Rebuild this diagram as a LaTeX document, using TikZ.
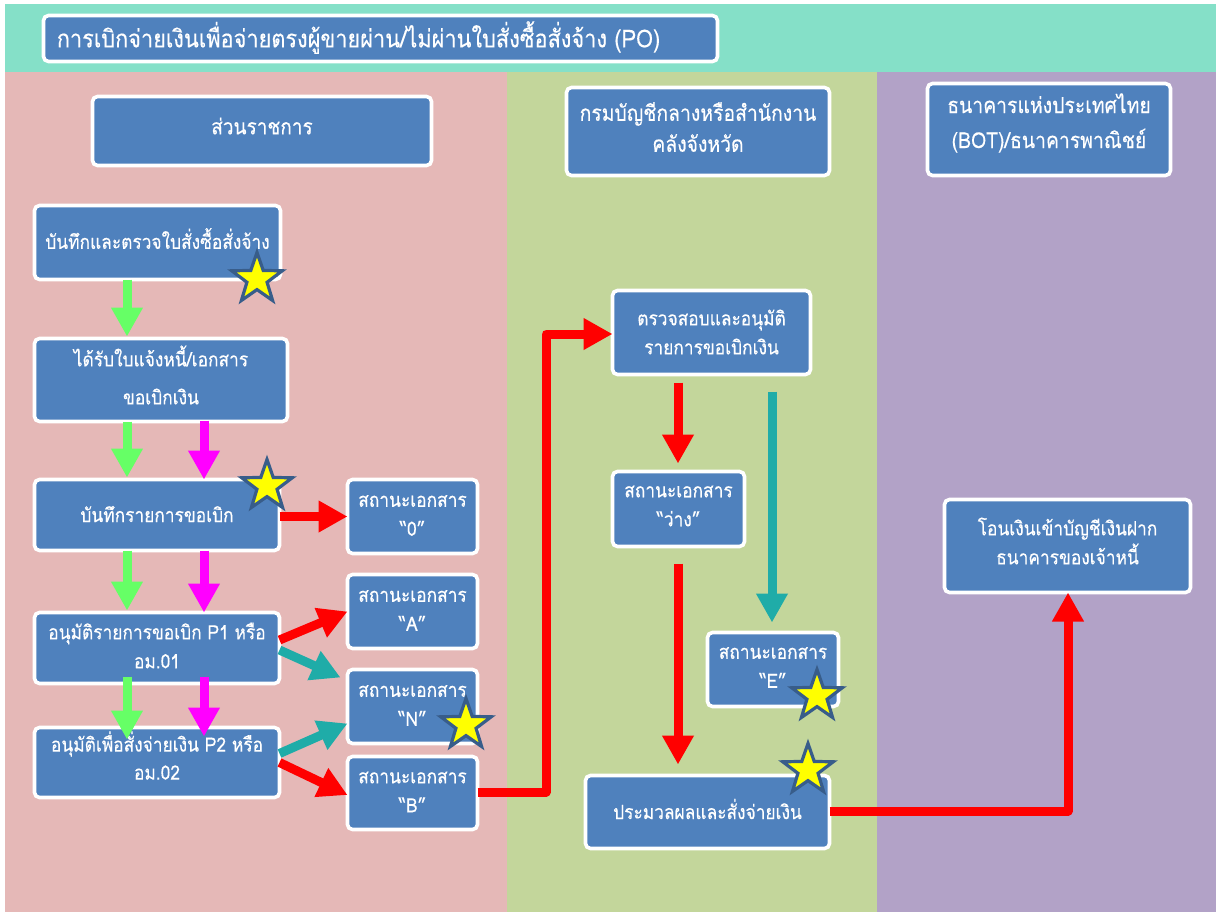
\documentclass[tikz,border=0pt]{standalone}
\usepackage{fontspec}
\setmainfont[Script=Thai,FakeStretch=0.88,FakeBold=0.3]{Loma}
\usetikzlibrary{arrows.meta,shapes.geometric}
\definecolor{bandteal}{HTML}{85E0C8}
\definecolor{bandpink}{HTML}{E5B8B7}
\definecolor{bandgreen}{HTML}{C3D69B}
\definecolor{bandpurple}{HTML}{B2A2C7}
\definecolor{boxblue}{HTML}{4F81BD}
\definecolor{arrgreen}{HTML}{66FF66}
\definecolor{arrmag}{HTML}{FF00FF}
\definecolor{arrred}{HTML}{FF0000}
\definecolor{arrteal}{HTML}{1FACA8}
\definecolor{starline}{HTML}{385D8A}
\definecolor{starfill}{HTML}{FFFF00}
\tikzset{
  boxn/.style={draw=white,line width=3.6pt,fill=boxblue,rounded corners=5pt,inner sep=0pt,outer sep=0pt},
  boxtext/.style={text=white,align=center,inner sep=0pt},
  flow/.style={line width=9pt,line join=round,-{Triangle[length=29pt,width=30pt]}},
  starn/.style={star,star points=5,star point ratio=2.5,fill=starfill,draw=starline,line width=3.2pt,inner sep=0pt,minimum size=53pt}
}
% name, x1, y1, x2, y2, font size, leading, text, raise
\newcommand{\bx}[9]{%
  \pgfmathsetmacro{\bcx}{(#2+#4)/2}\pgfmathsetmacro{\bcy}{(#3+#5)/2}%
  \pgfmathsetmacro{\bw}{#4-#2-3}\pgfmathsetmacro{\bh}{#5-#3-3}%
  \node[boxn,minimum width=\bw pt,minimum height=\bh pt,
    label={[boxtext,font=\fontsize{#6}{#7}\selectfont,yshift=#9pt]center:{#8}}] (#1) at (\bcx,\bcy) {};}
\begin{document}
\begin{tikzpicture}[x=1pt,y=-1pt]
\useasboundingbox (0,0) rectangle (1216,913);
\fill[white] (0,0) rectangle (1216,913);
\fill[bandteal] (5,4) rectangle (1216,72);
\fill[bandpink] (5,72) rectangle (507,912);
\fill[bandgreen] (507,72) rectangle (877,912);
\fill[bandpurple] (877,72) rectangle (1216,912);
\bx{title}{42}{14}{719}{63}{24.7}{30}{การเบิกจ่ายเงินเพื่อจ่ายตรงผู้ขายผ่าน/ไม่ผ่านใบสั่งซื้อสั่งจ้าง (PO)\hspace*{44pt}}{1}
\bx{hgov}{91}{95}{433}{167}{21.6}{30}{ส่วนราชการ}{5}
\bx{hcgd}{565}{86}{831}{177}{22}{31}{กรมบัญชีกลางหรือสำนักงาน\\คลังจังหวัด}{4.5}
\bx{hbot}{926}{82}{1172}{177}{22}{35}{ธนาคารแห่งประเทศไทย\\(BOT)/ธนาคารพาณิชย์}{6.5}
\bx{rec}{33}{204}{282}{281}{19.7}{28}{บันทึกและตรวจใบสั่งซื้อสั่งจ้าง}{4}
\bx{inv}{33}{337}{289}{423}{19.7}{38}{ได้รับใบแจ้งหนี้/เอกสาร\\ขอเบิกเงิน}{5}
\bx{req}{33}{478}{281}{552}{19.7}{28}{บันทึกรายการขอเบิก}{1}
\bx{pone}{33}{611}{281}{685}{19.7}{29}{อนุมัติรายการขอเบิก P1 หรือ\\อม.01}{2.5}
\bx{ptwo}{33}{726}{281}{799}{19.7}{28}{อนุมัติเพื่อสั่งจ่ายเงิน P2 หรือ\\อม.02}{7}
\bx{szero}{346}{478}{479}{555}{19.7}{29}{สถานะเอกสาร\\“0”}{1}
\bx{sa}{346}{573}{479}{650}{19.7}{29}{สถานะเอกสาร\\“A”}{1}
\bx{sn}{346}{668}{479}{745}{19.7}{29}{สถานะเอกสาร\\“N”}{1}
\bx{sb}{346}{755}{479}{831}{19.7}{29}{สถานะเอกสาร\\“B”}{1}
\bx{chk}{611}{289}{812}{376}{19.7}{29}{ตรวจสอบและอนุมัติ\\รายการขอเบิกเงิน}{0.5}
\bx{sblank}{611}{470}{746}{548}{19.7}{29}{สถานะเอกสาร\\“ว่าง”}{3}
\bx{se}{706}{631}{840}{708}{19.7}{29}{สถานะเอกสาร\\“E”}{2}
\bx{proc}{584}{774}{831}{850}{19.7}{28}{ประมวลผลและสั่งจ่ายเงิน}{3}
\bx{xfer}{943}{498}{1192}{594}{19.7}{29}{โอนเงินเข้าบัญชีเงินฝาก\\ธนาคารของเจ้าหนี้}{5}
% guide coordinates
\coordinate (gx) at (127,0);
\coordinate (mx) at (204,0);
\coordinate (rx) at (678,0);
\coordinate (tx) at (772,0);
\coordinate (elbowa) at (546,792);
\coordinate (elbowb) at (546,334);
\coordinate (elbowc) at (1068,811);
% green
\draw[flow,arrgreen,shorten >=2pt] (rec.south -| gx) -- (inv.north -| gx);
\draw[flow,arrgreen,shorten >=2pt] (inv.south -| gx) -- (req.north -| gx);
\draw[flow,arrgreen,shorten >=2pt] (req.south -| gx) -- (pone.north -| gx);
\draw[flow,arrgreen,shorten <=-7pt,shorten >=-12pt] (pone.south -| gx) -- (ptwo.north -| gx);
% magenta
\draw[flow,arrmag,shorten <=-1pt] (inv.south -| mx) -- (req.north -| mx);
\draw[flow,arrmag] (req.south -| mx) -- (pone.north -| mx);
\draw[flow,arrmag,shorten <=-7pt,shorten >=-9pt] (pone.south -| mx) -- (ptwo.north -| mx);
% status arrows
\draw[flow,arrred] (req.east |- szero.west) -- (szero.west);
\draw[flow,arrred] ([yshift=8pt]pone.east) -- (sa.west);
\draw[flow,arrteal] ([yshift=-2pt]pone.east) -- ([shift={(-7pt,29pt)}]sn.west);
\draw[flow,arrteal] ([yshift=9pt]ptwo.east) -- ([yshift=-17pt]sn.west);
\draw[flow,arrred] (ptwo.east) -- ([yshift=-2pt]sb.west);
% long elbows
\draw[flow,arrred] (sb.east |- elbowa) -- (elbowa) -- (elbowb) -- (chk.west |- elbowb);
\draw[flow,arrred,shorten <=8pt,shorten >=8pt] (chk.south -| rx) -- (sblank.north -| rx);
\draw[flow,arrteal,shorten <=17pt,shorten >=10pt] (chk.south -| tx) -- (se.north -| tx);
\draw[flow,arrred,shorten <=17pt,shorten >=11pt] (sblank.south -| rx) -- (proc.north -| rx);
\draw[flow,arrred] (proc.east |- elbowc) -- (elbowc) -- (xfer.south -| elbowc);
% stars
\node[starn] (sta) at (257,279) {};
\node[starn] (stb) at (267,486) {};
\node[starn] (stc) at (466,725) {};
\node[starn] (std) at (817,696) {};
\node[starn] (ste) at (808,770) {};
\end{tikzpicture}
\end{document}
